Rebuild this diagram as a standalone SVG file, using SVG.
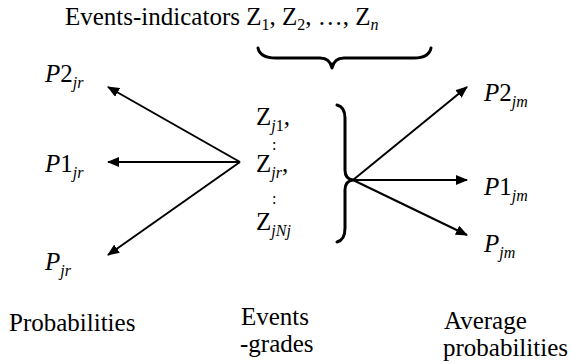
<svg xmlns="http://www.w3.org/2000/svg" width="571" height="364" viewBox="0 0 571 364">
<style>
.conn line{stroke:#000;stroke-width:2}
.brace{fill:none;stroke:#000;stroke-width:3;stroke-linecap:round;stroke-linejoin:round}
</style>
<defs>
<marker id="ah" viewBox="0 0 12 10" refX="11" refY="5" markerWidth="12" markerHeight="10" markerUnits="userSpaceOnUse" orient="auto">
<path d="M0,0 L12,5 L0,10 Z" fill="#000"/>
</marker>
</defs>
<rect width="571" height="364" fill="#fff"/>
<g id="heading" font-family="Times New Roman" font-size="25">
<text x="65" y="25" font-family="Times New Roman" font-size="25">Events-indicators Z<tspan font-size="16" dy="5">1</tspan><tspan dy="-5">, Z</tspan><tspan font-size="16" dy="5">2</tspan><tspan dy="-5">, &#8230;, Z</tspan><tspan font-size="16" font-style="italic" dy="5">n</tspan></text>
</g>
<g id="top-brace">
<path class="brace" d="M258,48 Q260,58 276,58 L320,58 Q330,58 332,68 Q334,58 344,58 L414,58 Q429,58 431,48"/>
</g>
<g id="P2jr"><text x="45" y="82" font-family="Times New Roman" font-size="25"><tspan font-style="italic">P</tspan>2<tspan font-size="16" font-style="italic" dy="6">jr</tspan></text></g>
<g id="P1jr"><text x="45" y="172" font-family="Times New Roman" font-size="25"><tspan font-style="italic">P</tspan>1<tspan font-size="16" font-style="italic" dy="6">jr</tspan></text></g>
<g id="Pjr"><text x="45" y="270" font-family="Times New Roman" font-size="25"><tspan font-style="italic">P</tspan><tspan font-size="16" font-style="italic" dy="6">jr</tspan></text></g>
<g id="events">
<text x="256" y="125" font-family="Times New Roman" font-size="25">Z<tspan font-size="16" font-style="italic" dy="6">j</tspan><tspan font-size="16">1</tspan><tspan dy="-6">,</tspan></text>
<text x="272" y="150" font-family="Times New Roman" font-size="16">:</text>
<text x="256" y="172" font-family="Times New Roman" font-size="25">Z<tspan font-size="16" font-style="italic" dy="6">jr</tspan><tspan dy="-6">,</tspan></text>
<text x="272" y="204" font-family="Times New Roman" font-size="16">:</text>
<text x="256" y="230" font-family="Times New Roman" font-size="25">Z<tspan font-size="16" font-style="italic" dy="6">jNj</tspan></text>
</g>
<g id="right-brace">
<path class="brace" d="M337,105 Q345,107 345,118 L345,170 Q345,179 353,180 Q345,181 345,190 L345,228 Q345,240 337,242"/>
</g>
<g id="P2jm"><text x="484" y="101" font-family="Times New Roman" font-size="25"><tspan font-style="italic">P</tspan>2<tspan font-size="16" font-style="italic" dy="6">jm</tspan></text></g>
<g id="P1jm"><text x="484" y="195" font-family="Times New Roman" font-size="25"><tspan font-style="italic">P</tspan>1<tspan font-size="16" font-style="italic" dy="6">jm</tspan></text></g>
<g id="Pjm"><text x="484" y="252" font-family="Times New Roman" font-size="25"><tspan font-style="italic">P</tspan><tspan font-size="16" font-style="italic" dy="6">jm</tspan></text></g>
<g id="probabilities"><text x="9" y="331" font-family="Times New Roman" font-size="25">Probabilities</text></g>
<g id="events-grades"><text x="241" y="325" font-family="Times New Roman" font-size="25">Events</text><text x="240" y="352" font-family="Times New Roman" font-size="25">-grades</text></g>
<g id="average-probabilities"><text x="444" y="329" font-family="Times New Roman" font-size="25">Average</text><text x="443" y="356" font-family="Times New Roman" font-size="25">probabilities</text></g>
<g id="connectors" class="conn">
<line x1="240" y1="162" x2="108" y2="87" marker-end="url(#ah)"/>
<line x1="240" y1="162" x2="108" y2="162" marker-end="url(#ah)"/>
<line x1="240" y1="162" x2="108" y2="255" marker-end="url(#ah)"/>
<line x1="353" y1="180" x2="467" y2="87" marker-end="url(#ah)"/>
<line x1="353" y1="180" x2="467" y2="180" marker-end="url(#ah)"/>
<line x1="353" y1="180" x2="467" y2="235" marker-end="url(#ah)"/>
</g>
</svg>
